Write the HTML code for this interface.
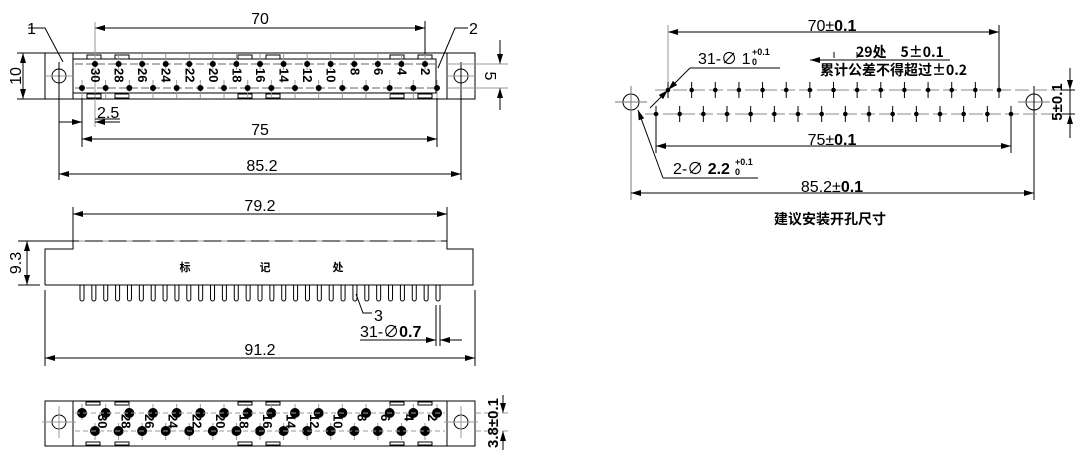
<!DOCTYPE html>
<html><head><meta charset="utf-8">
<style>
html,body{margin:0;padding:0;background:#fff;}
svg{display:block;}
text{font-family:"Liberation Sans","Noto Sans CJK SC",sans-serif;fill:#000;}
.cj{font-family:"Noto Sans CJK SC","WenQuanYi Zen Hei",sans-serif;font-weight:bold;}
</style></head><body>
<svg id="s" width="1080" height="459" viewBox="0 0 1080 459" xmlns="http://www.w3.org/2000/svg">
<defs>
<marker id="a" viewBox="0 0 10 6" refX="10" refY="3" markerWidth="10" markerHeight="6" orient="auto-start-reverse" markerUnits="userSpaceOnUse"><path d="M0,0L10,3L0,6z" fill="#000"/></marker>
</defs>
<g id="g" stroke="#000" stroke-width="1" fill="none">
<rect x="45" y="53" width="430" height="46"/>
<line x1="73" y1="53" x2="73" y2="99"/><line x1="447" y1="53" x2="447" y2="99"/>
<rect x="73" y="59" width="363" height="34"/>
<circle cx="59" cy="76" r="7"/><circle cx="461" cy="76" r="7"/>
<line x1="45" y1="76" x2="73" y2="76" stroke="#999"/><line x1="447" y1="76" x2="475" y2="76" stroke="#999"/>
<line x1="95" y1="28" x2="425" y2="28" marker-start="url(#a)" marker-end="url(#a)"/>
<line x1="95" y1="22" x2="95" y2="127" stroke="#999"/><line x1="425" y1="21" x2="425" y2="60"/>
<line x1="82" y1="139" x2="437" y2="139" marker-start="url(#a)" marker-end="url(#a)"/>
<line x1="82" y1="90" x2="82" y2="147"/><line x1="437" y1="90" x2="437" y2="147"/>
<line x1="59" y1="174" x2="461" y2="174" marker-start="url(#a)" marker-end="url(#a)"/>
<line x1="59" y1="62" x2="59" y2="180"/><line x1="461" y1="62" x2="461" y2="180"/>
<line x1="59" y1="122" x2="82" y2="122" marker-end="url(#a)"/>
<line x1="120" y1="122" x2="95" y2="122" marker-end="url(#a)"/>
<line x1="95" y1="119" x2="120" y2="119"/>
<line x1="23" y1="53" x2="23" y2="99" marker-start="url(#a)" marker-end="url(#a)"/>
<line x1="17" y1="53" x2="45" y2="53"/><line x1="17" y1="99" x2="45" y2="99"/>
<line x1="500" y1="40" x2="500" y2="64" marker-end="url(#a)"/>
<line x1="500" y1="110" x2="500" y2="88" marker-end="url(#a)"/>
<line x1="447" y1="64" x2="508" y2="64" stroke="#999"/><line x1="447" y1="88" x2="508" y2="88" stroke="#999"/>
<polyline points="28,28 45,28 63,62"/>
<polyline points="468,28 455,28 438,68"/>
<polyline points="45,285 45,249 73,249 73,241 447,241 447,249 473,249 473,285 45,285"/>
<line x1="73" y1="214" x2="447" y2="214" marker-start="url(#a)" marker-end="url(#a)"/>
<line x1="73" y1="207" x2="73" y2="241"/><line x1="447" y1="207" x2="447" y2="241"/>
<line x1="27" y1="241" x2="27" y2="285" marker-start="url(#a)" marker-end="url(#a)"/>
<line x1="18" y1="241" x2="73" y2="241"/><line x1="18" y1="285" x2="40" y2="285"/>
<line x1="45" y1="358" x2="475" y2="358" marker-start="url(#a)" marker-end="url(#a)"/>
<line x1="45" y1="290" x2="45" y2="366"/><line x1="475" y1="290" x2="475" y2="366"/>
<polyline points="356,294 363,313 372,313"/>
<line x1="360" y1="340" x2="436" y2="340"/>
<line x1="415" y1="340" x2="436" y2="340" marker-end="url(#a)"/>
<line x1="462" y1="340" x2="440" y2="340" marker-end="url(#a)"/>
<line x1="436" y1="305" x2="436" y2="346"/><line x1="440" y1="305" x2="440" y2="346"/>
<rect x="45" y="401" width="430" height="45"/>
<line x1="73" y1="401" x2="73" y2="446"/><line x1="447" y1="401" x2="447" y2="446"/>
<circle cx="59" cy="422" r="7"/><circle cx="461" cy="422" r="7"/>
<line x1="42" y1="422" x2="76" y2="422" stroke="#999"/><line x1="59" y1="406" x2="59" y2="438" stroke="#999"/>
<line x1="444" y1="422" x2="478" y2="422" stroke="#999"/><line x1="461" y1="406" x2="461" y2="438" stroke="#999"/>
<line x1="503" y1="395" x2="503" y2="413" marker-end="url(#a)"/>
<line x1="503" y1="450" x2="503" y2="431" marker-end="url(#a)"/>
<line x1="475" y1="413" x2="510" y2="413" stroke="#999" stroke-dasharray="6,3"/>
<line x1="475" y1="431" x2="510" y2="431" stroke="#999" stroke-dasharray="6,3"/>
<circle cx="631" cy="102" r="8"/><circle cx="1034" cy="102" r="8"/>
<line x1="615" y1="102" x2="647" y2="102" stroke="#777"/><line x1="631" y1="86" x2="631" y2="200" stroke="#777"/>
<line x1="1018" y1="102" x2="1050" y2="102" stroke="#777"/><line x1="1034" y1="86" x2="1034" y2="200"/>
<line x1="655" y1="90" x2="1060" y2="90" stroke="#888" stroke-dasharray="14,4"/>
<line x1="645" y1="114" x2="1065" y2="114" stroke="#888" stroke-dasharray="14,4"/>
<line x1="668" y1="32" x2="999" y2="32" marker-start="url(#a)" marker-end="url(#a)"/>
<line x1="668" y1="25" x2="668" y2="98" stroke="#999"/><line x1="999" y1="25" x2="999" y2="98"/>
<line x1="656" y1="146" x2="1011" y2="146" marker-start="url(#a)" marker-end="url(#a)"/>
<line x1="656" y1="106" x2="656" y2="153"/><line x1="1011" y1="106" x2="1011" y2="153"/>
<line x1="631" y1="193" x2="1034" y2="193" marker-start="url(#a)" marker-end="url(#a)"/>
<line x1="690" y1="68" x2="780" y2="68"/>
<line x1="690" y1="68" x2="668" y2="90" marker-end="url(#a)"/>
<line x1="650" y1="108" x2="668" y2="90" marker-end="url(#a)"/>
<line x1="663" y1="178" x2="758" y2="178"/>
<line x1="663" y1="178" x2="638" y2="110" marker-end="url(#a)"/>
<line x1="810" y1="60" x2="950" y2="60"/>
<line x1="835" y1="60" x2="810" y2="60" marker-end="url(#a)"/>
<line x1="834" y1="52" x2="834" y2="58"/><line x1="857" y1="52" x2="857" y2="58"/>
<line x1="1070" y1="70" x2="1070" y2="90" marker-end="url(#a)"/>
<line x1="1070" y1="135" x2="1070" y2="114" marker-end="url(#a)"/>
<line x1="1062" y1="90" x2="1075" y2="90"/><line x1="1062" y1="114" x2="1075" y2="114"/>
<line x1="1070" y1="68" x2="1070" y2="138"/>
</g>
<g id="t" font-size="16">
<text x="260" y="24" text-anchor="middle">70</text>
<text x="260" y="135" text-anchor="middle">75</text>
<text x="262" y="171" text-anchor="middle">85.2</text>
<text x="97" y="118">2.5</text>
<text x="36" y="34" text-anchor="end">1</text>
<text x="469" y="34">2</text>
<text transform="translate(21,76) rotate(-90)" text-anchor="middle">10</text>
<text transform="translate(485,76) rotate(90)" text-anchor="middle">5</text>
<text x="260" y="211" text-anchor="middle">79.2</text>
<text transform="translate(21,263) rotate(-90)" text-anchor="middle">9.3</text>
<text x="260" y="355" text-anchor="middle">91.2</text>
<text x="374" y="321">3</text>
<text x="360" y="337">31-∅<tspan font-weight="bold">0.7</tspan></text>
<text class="cj" x="185" y="271" font-size="11" text-anchor="middle">标</text>
<text class="cj" x="265" y="271" font-size="11" text-anchor="middle">记</text>
<text class="cj" x="338" y="271" font-size="11" text-anchor="middle">处</text>
<text transform="translate(498,423) rotate(-90)" text-anchor="middle" font-weight="bold" font-size="15">3.8±0.1</text>
<text x="832" y="31" text-anchor="middle">70±<tspan font-weight="bold">0.1</tspan></text>
<text x="832" y="145" text-anchor="middle">75±<tspan font-weight="bold">0.1</tspan></text>
<text x="832" y="192" text-anchor="middle">85.2±<tspan font-weight="bold">0.1</tspan></text>
<text x="698" y="64">31-∅ 1</text>
<text x="752" y="55" font-size="9" font-weight="bold">+0.1</text>
<text x="752" y="65" font-size="9" font-weight="bold">0</text>
<text x="673" y="174">2-∅ <tspan font-weight="bold">2.2</tspan></text>
<text x="735" y="165" font-size="9" font-weight="bold">+0.1</text>
<text x="735" y="175" font-size="9" font-weight="bold">0</text>
<text class="cj" x="856" y="57" font-size="14" font-weight="normal">29处　5±0.1</text>
<text class="cj" x="820" y="75" font-size="14">累计公差不得超过±0.2</text>
<text class="cj" x="830" y="224" font-size="14" text-anchor="middle">建议安装开孔尺寸</text>
<text transform="translate(1062,102) rotate(-90)" text-anchor="middle" font-weight="bold" font-size="15">5±0.1</text>
</g>
</svg>
<script>
var S=document.getElementById('g'),T=document.getElementById('t'),NS="http://www.w3.org/2000/svg";
function el(p,n,a,tx){var e=document.createElementNS(NS,n);for(var k in a)e.setAttribute(k,a[k]);if(tx)e.textContent=tx;p.appendChild(e);return e;}
var i,x;
el(S,'line',{x1:75,y1:64,x2:436,y2:64,'stroke-dasharray':'8,3',stroke:'#666'});
el(S,'line',{x1:75,y1:88,x2:436,y2:88,'stroke-dasharray':'8,3',stroke:'#666'});
[[87,55],[115,55],[238,55],[266,55],[390,55],[418,55],[87,94],[115,94],[238,94],[266,94],[390,94],[418,94]].forEach(function(p){el(S,'rect',{x:p[0],y:p[1],width:14,height:4});});
for(i=0;i<15;i++){x=95+i*330/14;el(S,'line',{x1:x,y1:54,x2:x,y2:70,stroke:'#999'});el(S,'circle',{cx:x,cy:64,r:2.5,fill:'#000'});
el(T,'text',{transform:'translate('+(x-4)+',68) rotate(90)','font-size':13,'font-weight':'bold'},String(30-i*2));}
for(i=0;i<16;i++){x=82+i*355/15;el(S,'line',{x1:x,y1:80,x2:x,y2:98,stroke:'#999'});el(S,'circle',{cx:x,cy:88,r:2.5,fill:'#000'});}
for(i=0;i<31;i++){x=82+i*356/30;el(S,'path',{d:'M'+(x-2)+',285V299a2,2 0 0 0 4,0V285'});}
for(i=0;i<16;i++){x=82+i*356/30*2;el(S,'line',{x1:x-3,y1:241,x2:x+3,y2:241,stroke:'#999'});}
[[86,402],[115,402],[238,402],[266,402],[390,402],[418,402],[86,442],[115,442],[238,442],[266,442],[390,442],[418,442]].forEach(function(p){el(S,'rect',{x:p[0],y:p[1],width:14,height:3});});
for(i=0;i<16;i++){x=82+i*355/15;el(S,'line',{x1:x,y1:404,x2:x,y2:420,stroke:'#999'});el(S,'circle',{cx:x,cy:413,r:4.5,fill:'#000'});}
for(i=0;i<15;i++){x=95+i*330/14;el(S,'line',{x1:x,y1:423,x2:x,y2:440,stroke:'#999'});el(S,'circle',{cx:x,cy:431,r:4.5,fill:'#000'});
el(T,'text',{transform:'translate('+(x+3)+',414) rotate(90)','font-size':13,'font-weight':'bold'},String(30-i*2));}
el(S,'line',{x1:75,y1:413,x2:445,y2:413,stroke:'#999','stroke-dasharray':'5,3'});
el(S,'line',{x1:75,y1:431,x2:445,y2:431,stroke:'#999','stroke-dasharray':'5,3'});
for(i=0;i<15;i++){x=668+i*331/14;el(S,'line',{x1:x,y1:82,x2:x,y2:98});el(S,'circle',{cx:x,cy:90,r:1.8,fill:'#000'});}
for(i=0;i<16;i++){x=656+i*355/15;el(S,'line',{x1:x,y1:106,x2:x,y2:122});el(S,'circle',{cx:x,cy:114,r:1.8,fill:'#000'});}
</script>
</body></html>
